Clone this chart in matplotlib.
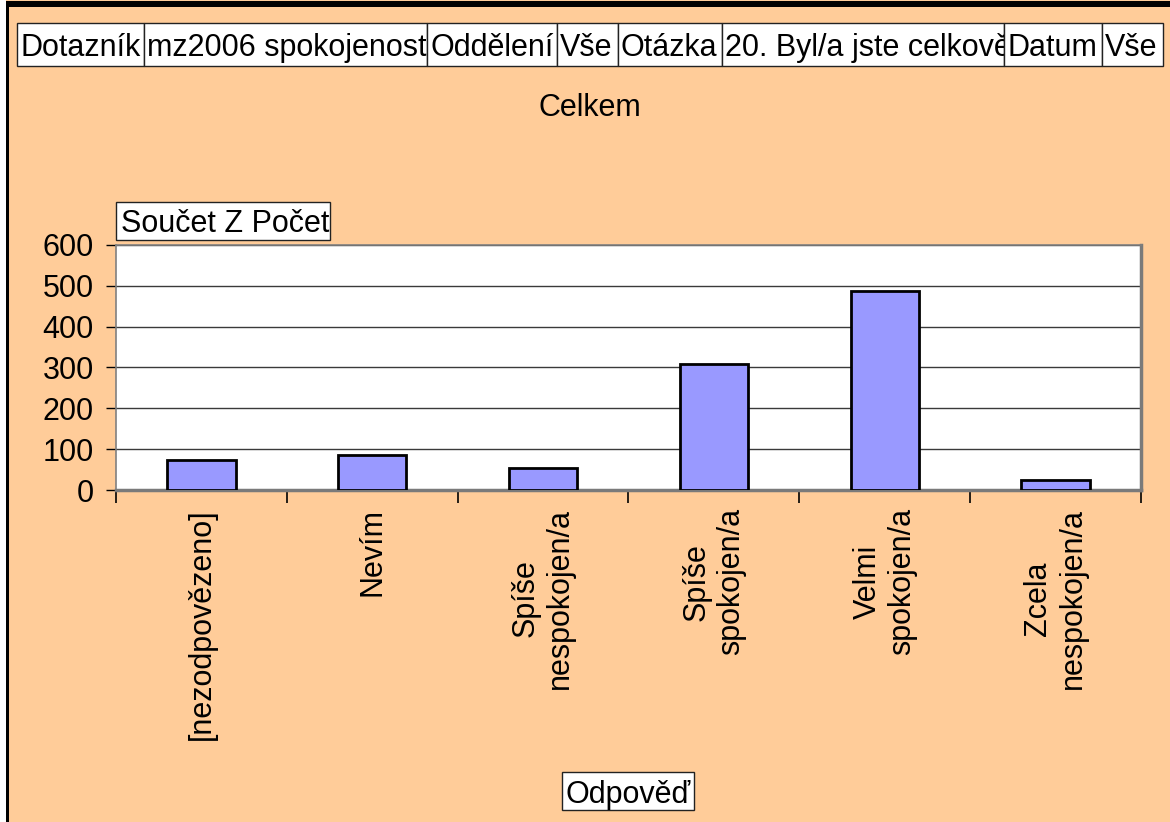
import matplotlib.pyplot as plt
from matplotlib.patches import Rectangle

plt.rcParams["font.family"] = ["Liberation Sans", "DejaVu Sans"]

W, H = 1170, 822

# header filter cells: (text, left px, right px)
header_texts = ["Dotazník", "mz2006 spokojenost", "Oddělení", "Vše", "Otázka",
                "20. Byl/a jste celkově", "Datum", "Vše"]
header_edges = [17, 144, 427, 557, 618, 722, 1004, 1102, 1163]

categories = ["[nezodpovězeno]", "Nevím", "Spíše\nnespokojen/a", "Spíše\nspokojen/a",
              "Velmi\nspokojen/a", "Zcela\nnespokojen/a"]
counts = [73, 86, 55, 308, 487, 24]
y_ticks = [0, 100, 200, 300, 400, 500, 600]

title = "Celkem"
data_label = "Součet Z Počet"
axis_label = "Odpověď"

BG = "#FFCC99"
BAR = "#9999FF"
FS = 22


def fx(x):
    return x / W


def fy(y):
    return 1 - y / H


def label_box(fig, text, left, top, right, bottom, z=5, pad_left=None):
    rect = Rectangle((fx(left), fy(bottom)), fx(right) - fx(left), fy(top) - fy(bottom),
                     transform=fig.transFigure, facecolor="white", edgecolor="#222222",
                     linewidth=1.0, zorder=z)
    fig.patches.append(rect)
    if pad_left is None:
        t = fig.text(fx((left + right) / 2), fy((top + bottom) / 2), text, ha="center",
                     va="center_baseline", fontsize=FS, zorder=z)
    else:
        t = fig.text(fx(left + pad_left), fy((top + bottom) / 2), text, ha="left",
                     va="center_baseline", fontsize=FS, zorder=z)
    t.set_clip_path(rect)


fig = plt.figure(figsize=(W / 100, H / 100), dpi=100, facecolor=BG)

# outer frame lines
fig.patches.append(Rectangle((0, fy(7)), 1, fy(1) - fy(7), transform=fig.transFigure,
                             facecolor="black", edgecolor="none", zorder=1))
fig.patches.append(Rectangle((0, 0), fx(6), 1, transform=fig.transFigure,
                             facecolor="white", edgecolor="none", zorder=1))
fig.patches.append(Rectangle((fx(6), 0), fx(2.5), fy(1), transform=fig.transFigure,
                             facecolor="black", edgecolor="none", zorder=1))

# header cells, text clipped to its own cell
for i, text in enumerate(header_texts):
    label_box(fig, text, header_edges[i], 23, header_edges[i + 1], 66, z=10 + i, pad_left=3)

fig.text(fx(590), fy(108), title, ha="center", va="center", fontsize=FS)

ax = fig.add_axes([fx(116), fy(490), fx(1141) - fx(116), fy(245) - fy(490)])
ax.set_facecolor("white")
x = list(range(len(categories)))
ax.bar(x, counts, width=0.40, color=BAR, edgecolor="black", linewidth=2, zorder=3)

ax.set_xlim(-0.5, len(categories) - 0.5)
ax.set_ylim(0, 600)
ax.set_yticks(y_ticks)
ax.set_yticklabels([str(v) for v in y_ticks], fontsize=FS)
ax.yaxis.grid(True, color="#3a3a3a", linewidth=1.0, zorder=0)
ax.tick_params(axis="y", length=7, width=1, color="black", pad=9)

ax.set_xticks(x)
ax.set_xticklabels(categories, rotation=90, ha="center", va="top", multialignment="center", fontsize=FS)
ax.set_xticks([v - 0.5 for v in range(len(categories) + 1)], minor=True)
ax.tick_params(axis="x", which="major", length=0, pad=13)
ax.tick_params(axis="x", which="minor", length=9, width=1.2, color="black")

for side in ["left", "top"]:
    ax.spines[side].set_color("#808080")
    ax.spines[side].set_linewidth(1.2)
for side in ["right", "bottom"]:
    ax.spines[side].set_color("#7a7a7a")
    ax.spines[side].set_linewidth(2.5)

label_box(fig, data_label, 116, 202, 330, 240, pad_left=5)
label_box(fig, axis_label, 562, 772, 694, 810)

fig.savefig("out.png", dpi=100, facecolor=BG)
